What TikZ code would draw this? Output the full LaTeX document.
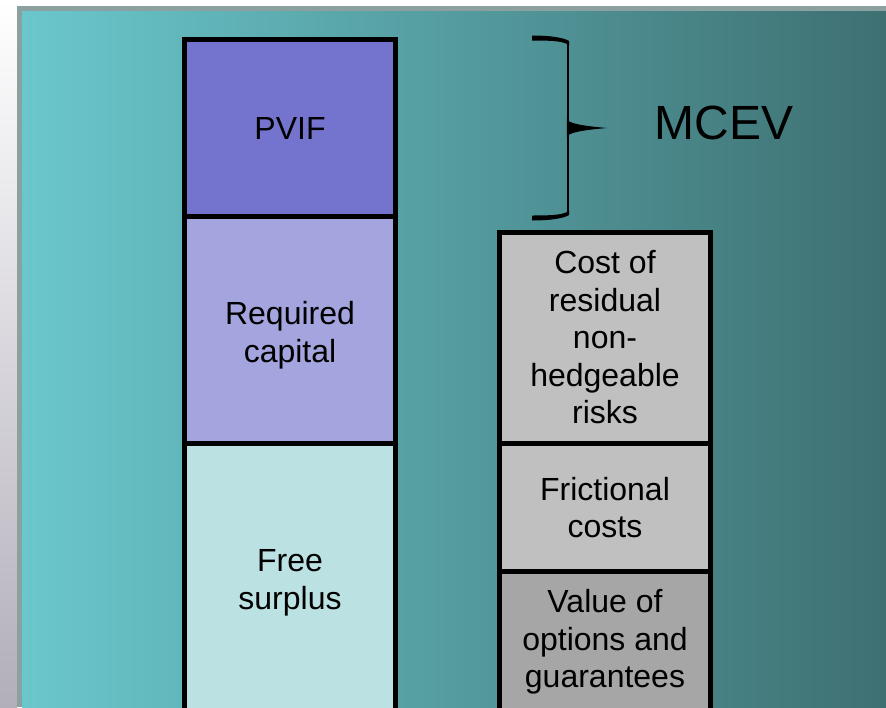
\documentclass[tikz,border=0pt]{standalone}
\usepackage{fontspec}
\setmainfont{Liberation Sans}
\definecolor{bgL}{HTML}{6AC7CC}
\definecolor{bgM}{HTML}{59A6A9}
\definecolor{bgR}{HTML}{3E7072}
\definecolor{slideborder}{HTML}{8DA0A0}
\definecolor{pvif}{HTML}{7474CF}
\definecolor{reqcap}{HTML}{A4A4DE}
\definecolor{freesur}{HTML}{BCE1E3}
\definecolor{lgray}{HTML}{C0C0C0}
\definecolor{dgray}{HTML}{A6A6A6}
\definecolor{stripbot}{HTML}{B2AEBA}
\begin{document}
\begin{tikzpicture}[x=1pt,y=-1pt,
  blk/.style={draw=black, line width=5pt, minimum width=211pt, inner sep=0pt},
  lbl/.style={align=center, inner sep=0pt, font=\fontsize{32}{37.5}\selectfont}]
\useasboundingbox (0,0) rectangle (886,707);
\clip (0,0) rectangle (886,707);
% page background
\shade[top color=white, bottom color=stripbot] (0,0) rectangle (17,707);
\fill[white] (17,0) rectangle (886,6);
\fill[slideborder] (17,6) rectangle (886,707);
\shade[left color=bgL, middle color=bgM, right color=bgR] (22,11) rectangle (886,707);
% left column
\node[blk, fill=pvif, minimum height=177pt] (pvif) at (290,128) {};
\node[blk, fill=reqcap, minimum height=226.5pt] (req) at (290,329.75) {};
\node[blk, fill=freesur, minimum height=277pt] (free) at (290,581.5) {};
\node[lbl] (pviftxt) at (290,128) {PVIF};
\node[lbl] (reqtxt) at (290,335) {Required\\capital};
\node[lbl] (freetxt) at (290,583) {Free\\surplus};
% right column
\node[blk, fill=lgray, minimum height=211pt] (cost) at (605,338) {};
\node[blk, fill=lgray, minimum height=128pt] (fric) at (605,507.5) {};
\node[blk, fill=dgray, minimum height=148.5pt] (val) at (605,645.75) {};
\node[lbl] (costtxt) at (605,337.5) {Cost of\\residual\\non-\\hedgeable\\risks};
\node[lbl] (frictxt) at (605,507.5) {Frictional\\costs};
\node[lbl] (valtxt) at (605,642) {Value of\\options and\\guarantees};
% brace
\draw[line width=2.3pt] (568,42) -- (568,121);
\draw[line width=2.3pt] (568,135) -- (568,214);
\fill (532,35.5) .. controls (550,35.5) and (563,37.5) .. (569.2,41) -- (569.2,46)
      .. controls (566,41) and (552,40.5) .. (532,40.5) -- cycle;
\fill (532,220.5) .. controls (550,220.5) and (563,218.5) .. (569.2,215) -- (569.2,210)
      .. controls (566,215) and (552,215.5) .. (532,215.5) -- cycle;
\fill (566.8,119) .. controls (569,124) and (585,126) .. (607,128)
      .. controls (585,130) and (569,132) .. (566.8,137) -- cycle;
\node[inner sep=0pt, font=\fontsize{48}{56}\selectfont] (mcev) at (724,123) {MCEV};
\end{tikzpicture}
\end{document}
